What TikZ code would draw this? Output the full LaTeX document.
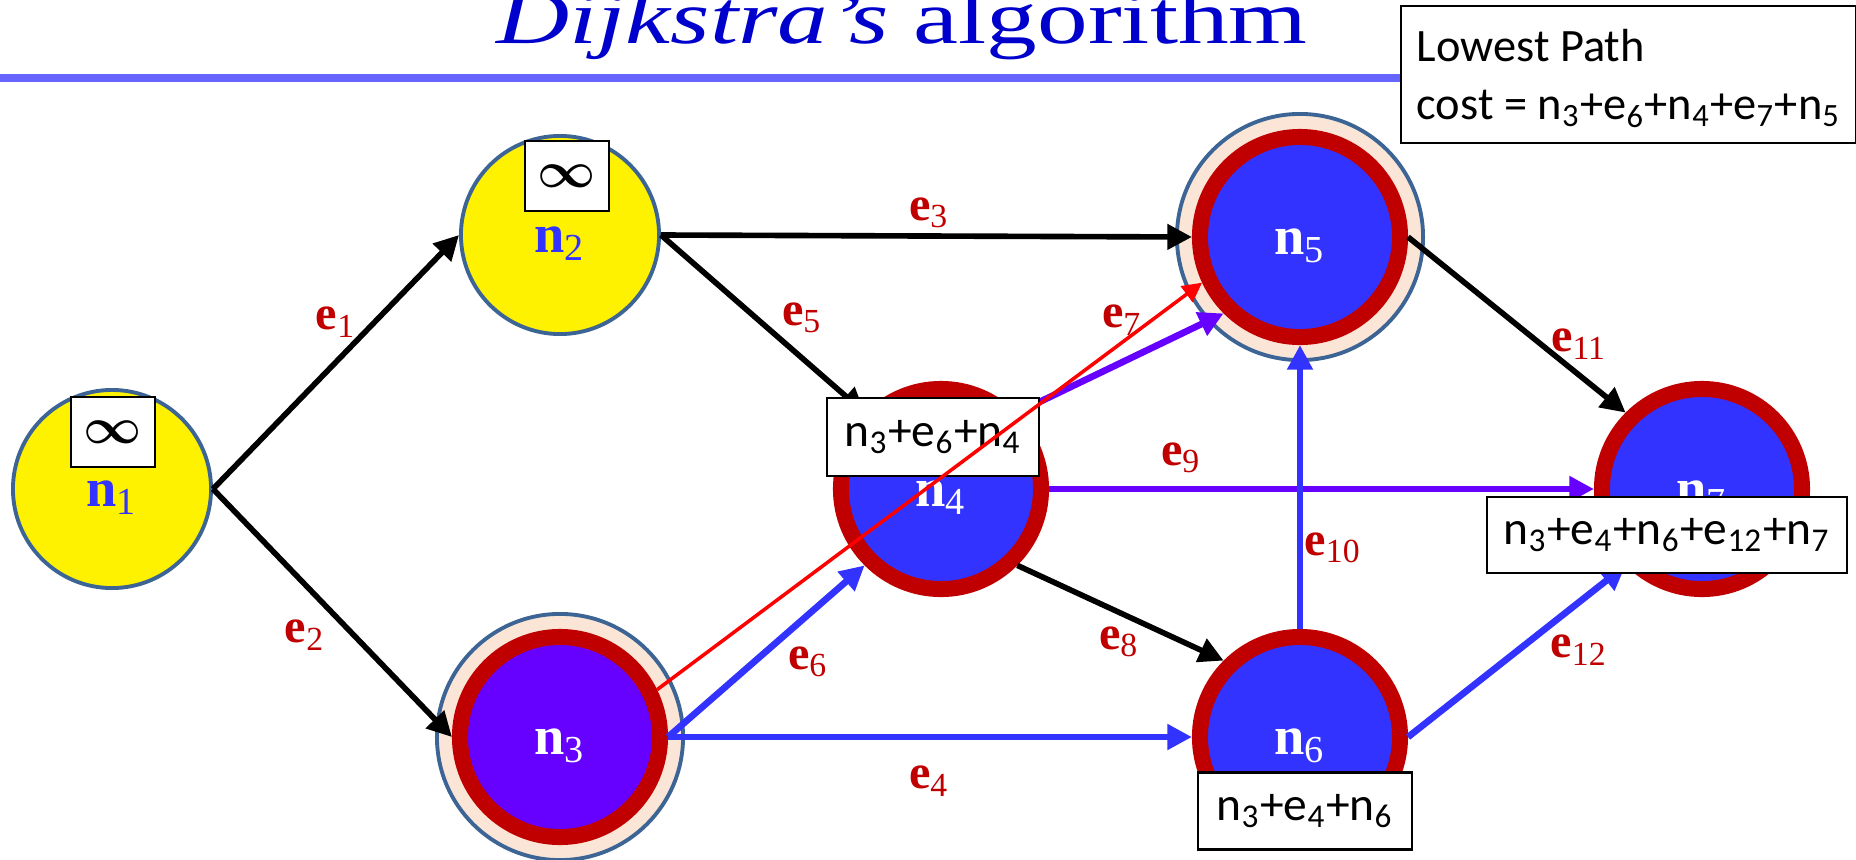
\documentclass[tikz,border=0pt]{standalone}
\usepackage{fontspec}
\setmainfont{Liberation Serif}
\newfontfamily\boxfont{Carlito}
\usetikzlibrary{arrows.meta, positioning}

\definecolor{nodeblue}{HTML}{3333FF}
\definecolor{pathpurple}{HTML}{6600FF}
\definecolor{ringred}{HTML}{C00000}
\definecolor{rimblue}{HTML}{3C6494}
\definecolor{haloskin}{HTML}{FBE5D6}
\definecolor{titleblue}{HTML}{0000CC}
\definecolor{ruleblue}{HTML}{6666FF}

\newcommand{\lab}[2]{\textbf{#1}\textsubscript{#2}}
\newcommand{\sub}[1]{\textsubscript{#1}}

\begin{document}
\begin{tikzpicture}[x=0.01cm, y=-0.01cm, >={Triangle[length=7pt, width=7pt]},
  unseen/.style={circle, inner sep=0pt, minimum size=1.98cm, fill=yellow, draw=rimblue, line width=1.1pt,
    text=nodeblue, font=\fontsize{15.5}{18}\selectfont, text height=10pt, text depth=0pt},
  settled/.style={circle, inner sep=0pt, minimum size=2cm, fill=nodeblue, draw=ringred, line width=4.55pt,
    text=white, font=\fontsize{15.5}{18}\selectfont, text height=10pt, text depth=0pt},
  haloring/.style={circle, inner sep=0pt, minimum size=2.46cm, fill=haloskin, draw=rimblue, line width=1.1pt},
  infbox/.style={draw, fill=white, line width=0.6pt, inner sep=0pt, minimum width=0.84cm, minimum height=0.7cm,
    font=\fontsize{15.4}{16}\selectfont\boldmath},
  pathbox/.style={draw, fill=white, line width=0.6pt, inner sep=0pt, font=\boxfont\fontsize{13.5}{16}\selectfont},
  elab/.style={text=ringred, inner sep=0pt, font=\fontsize{13.7}{16}\selectfont},
  blk/.style={->, line width=1.6pt},
  bluln/.style={->, line width=1.9pt, nodeblue},
  purln/.style={->, line width=1.9pt, pathpurple},
  redln/.style={-{Triangle[length=5.5pt, width=5.5pt]}, line width=1pt, red}]
  \useasboundingbox (0,0) rectangle (1856,860);

  % heading
  \node[anchor=base, inner sep=0pt, text=titleblue, font=\fontsize{28.8}{30}\selectfont] (title) at (902,43)
    {\scalebox{1}[0.75]{\textit{Dijkstra's} algorithm}};
  \draw[ruleblue, line width=2.3pt] (0,78) -- (1400,78);

  % graph
  \node[haloring] (h3) at (560,737) {};
  \node[haloring] (h5) at (1300,237) {};
  \node[unseen] (n1) at (112,489) {\lab{n}{1}};
  \node[unseen] (n2) at (560,235) {\lab{n}{2}};
  \node[settled, fill=pathpurple] (n3) at (560,737) {\lab{n}{3}};
  \node[settled] (n4) at (941,489) {\lab{n}{4}};
  \node[settled] (n5) at (1300,237) {\lab{n}{5}};
  \node[settled] (n6) at (1300,737) {\lab{n}{6}};
  \node[settled] (n7) at (1702,489) {\lab{n}{7}};
  \node[infbox] (inf1) at (113,432) {$\infty$};
  \node[infbox] (inf2) at (567,176) {$\infty$};

  \foreach \a/\b in {n1.east/n2.west, n1.east/n3.west, n2.east/n5.west, n2.east/n4.north west,
                     n4.south east/n6.north west, n5.east/n7.north west}
    \draw[blk] (\a) -- (\b);
  \draw[bluln] (n3.east) -- (n4.south west);
  \draw[bluln] (n3.east) -- (n6.west);
  \draw[purln] (n4.north east) -- (n5.south west);
  \draw[purln] (n4.east) -- (n7.west);
  \draw[bluln] (n6.north) -- (n5.south);
  \draw[bluln] (n6.east) -- (n7.south west);

  \foreach \i/\x/\y in {1/336/322, 2/305/635, 3/929/213, 4/929/781, 5/802/318, 6/808/662,
                        7/1122/320, 8/1119/642, 9/1181/458, 10/1333/548, 11/1579/344, 12/1579/650}
    \node[elab] (e\i) at (\x,\y) {\lab{e}{\i}};

  % running costs
  \node[pathbox, minimum width=2.12cm, minimum height=0.78cm] (c4) at (933,437)
    {n\sub{3}+e\sub{6}+n\sub{4}};
  \node[pathbox, minimum width=3.6cm, minimum height=0.76cm] (c7) at (1667,535)
    {n\sub{3}+e\sub{4}+n\sub{6}+e\sub{12}+n\sub{7}};
  \node[pathbox, minimum width=2.13cm, minimum height=0.77cm] (c6) at (1305,811)
    {n\sub{3}+e\sub{4}+n\sub{6}};
  \draw[redln] (n3.26) -- (n5.205);

  \node[pathbox, anchor=north west, minimum width=4.55cm, minimum height=1.37cm, align=left, text depth=0pt,
    font=\boxfont\fontsize{13.2}{16.5}\selectfont] (best) at (1400,5)
    {Lowest Path\\cost = n\sub{3}+e\sub{6}+n\sub{4}+e\sub{7}+n\sub{5}};
\end{tikzpicture}
\end{document}
